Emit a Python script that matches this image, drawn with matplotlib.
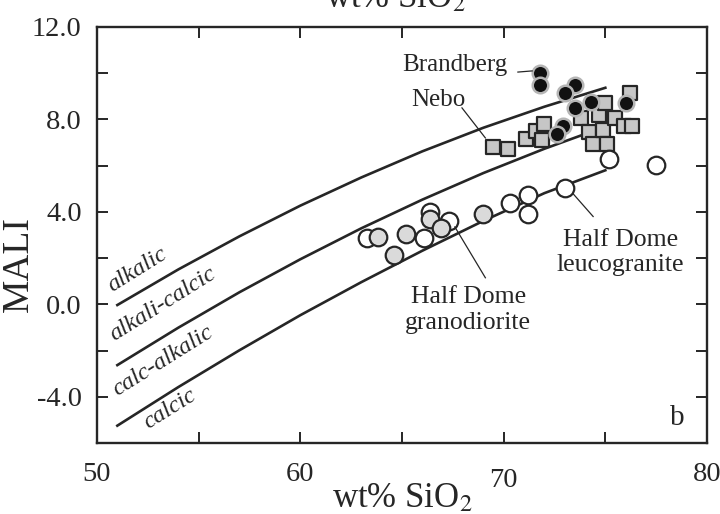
import matplotlib
matplotlib.use("Agg")
import matplotlib.pyplot as plt
from matplotlib.transforms import ScaledTranslation

plt.rcParams["font.family"] = ["Liberation Serif", "DejaVu Serif"]
plt.rcParams["mathtext.fontset"] = "stix"
plt.rcParams["axes.unicode_minus"] = False

# MALI class boundaries (Frost et al.), read along wt% SiO2
silica_grid = [51, 54, 57, 60, 63, 66, 69, 72, 75]
alkalic_bound = [-0.03, 1.51, 2.94, 4.27, 5.49, 6.62, 7.64, 8.55, 9.37]
alkali_calcic_bound = [-2.63, -1.01, 0.52, 1.95, 3.29, 4.53, 5.68, 6.73, 7.69]
calc_alkalic_bound = [-5.25, -3.58, -1.99, -0.47, 0.96, 2.32, 3.61, 4.81, 5.80]

brandberg_sio2 = [71.8, 71.8, 73.5, 73.0, 74.3, 73.5, 76.0, 72.9, 72.6]
brandberg_mali = [10.0, 9.5, 9.5, 9.15, 8.75, 8.5, 8.7, 7.7, 7.35]

nebo_sio2 = [69.5, 70.2, 71.1, 71.6, 72.0, 71.9, 73.8, 74.7, 74.2, 74.4,
             75.0, 74.9, 75.1, 75.5, 75.9, 76.3, 76.2]
nebo_mali = [6.8, 6.7, 7.15, 7.5, 7.8, 7.1, 8.05, 8.2, 7.45, 6.95,
             8.7, 7.55, 6.95, 8.05, 7.7, 7.7, 9.15]

granodiorite_sio2 = [63.8, 64.6, 65.2, 66.4, 66.9, 69.0]
granodiorite_mali = [2.9, 2.15, 3.05, 3.7, 3.3, 3.9]

leucogranite_sio2 = [63.3, 66.1, 66.4, 67.3, 70.3, 71.2, 71.2, 73.0, 75.2, 77.5]
leucogranite_mali = [2.85, 2.85, 4.0, 3.6, 4.4, 4.75, 3.9, 5.05, 6.3, 6.05]

x_ticks = [50, 55, 60, 65, 70, 75, 80]
x_ticklabels = ["50", "", "60", "", "70", "", "80"]
y_ticks = [-6, -4, -2, 0, 2, 4, 6, 8, 10, 12]
y_ticklabels = ["", "-4.0", "", "0.0", "", "4.0", "", "8.0", "", "12.0"]

ink = "#262626"

fig = plt.figure(figsize=(7.2, 5.14), dpi=100)
ax = fig.add_axes([97 / 720, 71 / 514, 610 / 720, 416 / 514])

for bound in (alkalic_bound, alkali_calcic_bound, calc_alkalic_bound):
    ax.plot(silica_grid, bound, color=ink, lw=1.9, zorder=1)

ax.scatter(nebo_sio2, nebo_mali, marker="s", s=110, facecolor="#c6c6c6",
           edgecolor=ink, linewidth=1.6, zorder=2)
ax.scatter(brandberg_sio2, brandberg_mali, marker="o", s=125, facecolor="#111111",
           edgecolor="#b5b5b5", linewidth=1.8, zorder=3)
ax.scatter(leucogranite_sio2, leucogranite_mali, marker="o", s=160, facecolor="white",
           edgecolor=ink, linewidth=1.6, zorder=3)
ax.scatter(granodiorite_sio2, granodiorite_mali, marker="o", s=160, facecolor="#dadada",
           edgecolor=ink, linewidth=1.6, zorder=4)

# field names along the boundary curves
field_kw = dict(style="italic", fontsize=17.5, color=ink, rotation=32,
                rotation_mode="anchor", ha="center", va="center")
ax.text(52.0, 1.5, "alkalic", **field_kw)
ax.text(53.25, 0.0, "alkali-calcic", **field_kw)
ax.text(53.25, -2.45, "calc-alkalic", **field_kw)
ax.text(53.6, -4.55, "calcic", **field_kw)

# group labels with leader lines
lead_kw = dict(color=ink, lw=0.9, zorder=5)
ax.plot([70.7, 71.4], [10.05, 10.1], **lead_kw)
ax.text(67.6, 10.35, "Brandberg", fontsize=18, color=ink, ha="center", va="center")
ax.plot([67.95, 69.1], [8.5, 7.2], **lead_kw)
ax.text(66.8, 8.85, "Nebo", fontsize=18, color=ink, ha="center", va="center")
ax.plot([67.6, 69.1], [3.35, 1.15], **lead_kw)
ax.text(68.25, -0.25, "Half Dome\ngranodiorite", fontsize=18.5, color=ink,
        ha="center", va="center", linespacing=1.2)
ax.plot([73.4, 74.4], [4.8, 3.8], **lead_kw)
ax.text(75.75, 2.25, "Half Dome\nleucogranite", fontsize=18.5, color=ink,
        ha="center", va="center", linespacing=1.2)

ax.text(78.9, -5.5, "b", fontsize=21, color=ink, ha="right", va="bottom")

ax.set_xlim(50, 80)
ax.set_ylim(-6, 12)
ax.set_xticks(x_ticks)
ax.set_xticklabels(x_ticklabels)
ax.set_yticks(y_ticks)
ax.set_yticklabels(y_ticklabels)
ax.tick_params(direction="in", length=8, width=1.4, top=True, right=True,
               labelsize=20.5, labelcolor=ink, color=ink)
ax.tick_params(axis="x", pad=14)
ax.tick_params(axis="y", pad=11)
for spine in ax.spines.values():
    spine.set_linewidth(1.7)
    spine.set_color(ink)

# the "70" label sits a little lower than its neighbours
lbl70 = ax.xaxis.get_major_ticks()[4].label1
lbl70.set_transform(lbl70.get_transform() + ScaledTranslation(0, -6 / 100, fig.dpi_scale_trans))

ax.set_xlabel("wt% SiO$_2$", fontsize=25, color=ink, labelpad=-8)
ax.set_ylabel("MALI", fontsize=27, color=ink)
ax.yaxis.set_label_coords(-0.101, 0.43)

# axis title of the panel above, cut by the top edge
fig.text(395 / 720, 1 - 7 / 514, "wt% SiO$_2$", fontsize=25, color=ink,
         ha="center", va="baseline")

fig.savefig("out.png", dpi=100)
